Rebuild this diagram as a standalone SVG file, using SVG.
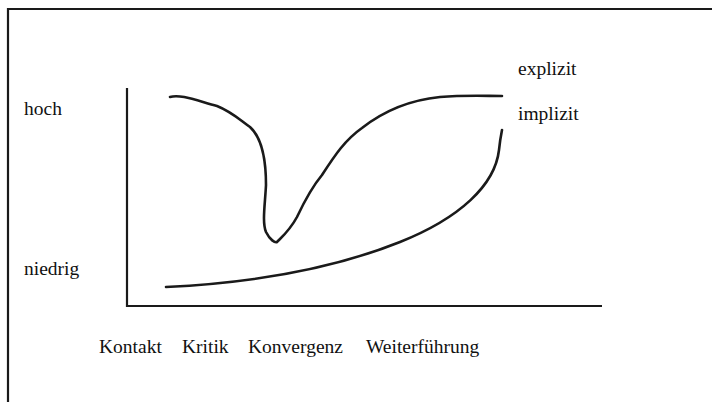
<svg xmlns="http://www.w3.org/2000/svg" width="712" height="402" viewBox="0 0 712 402">
<style>
.t{font-family:"Liberation Serif","Times New Roman",serif;font-size:19.5px;fill:#111}
.c{fill:none;stroke:#1a1a1a;stroke-width:2.6;stroke-linecap:round;stroke-linejoin:round}
.ax{fill:none;stroke:#1a1a1a;stroke-width:2.2}
</style>
<rect width="712" height="402" fill="#fff"/>
<path class="ax" d="M8,402 V9 H712"/>
<g id="axes">
<path class="ax" d="M127,88 V306 H602"/>
</g>
<g id="labels">
<text class="t" x="24" y="115">hoch</text>
<text class="t" x="24" y="275">niedrig</text>
<text class="t" x="518" y="75">explizit</text>
<text class="t" x="518" y="120">implizit</text>
<text class="t" x="99" y="353">Kontakt</text>
<text class="t" x="182" y="353">Kritik</text>
<text class="t" x="248" y="353">Konvergenz</text>
<text class="t" x="366" y="353">Weiterführung</text>
</g>
<g id="connectors">
<path id="explizit-curve" class="c" d="M170,97 C180,94 195,100 217,106 C232,112 240,120 250,127 C262,138 266,160 266,185 C265,205 262,222 266,232 C270,240 275,243 277,242 C283,236 290,230 297,217 C305,200 312,187 322,175 C335,155 345,140 362,128 C385,110 410,100 440,97 C465,95 485,96 502,96"/>
<path id="implizit-curve" class="c" d="M166,287 C250,283 330,270 400,242 C460,218 495,185 499,150 C500,140 501,135 502,130"/>
</g>
</svg>
